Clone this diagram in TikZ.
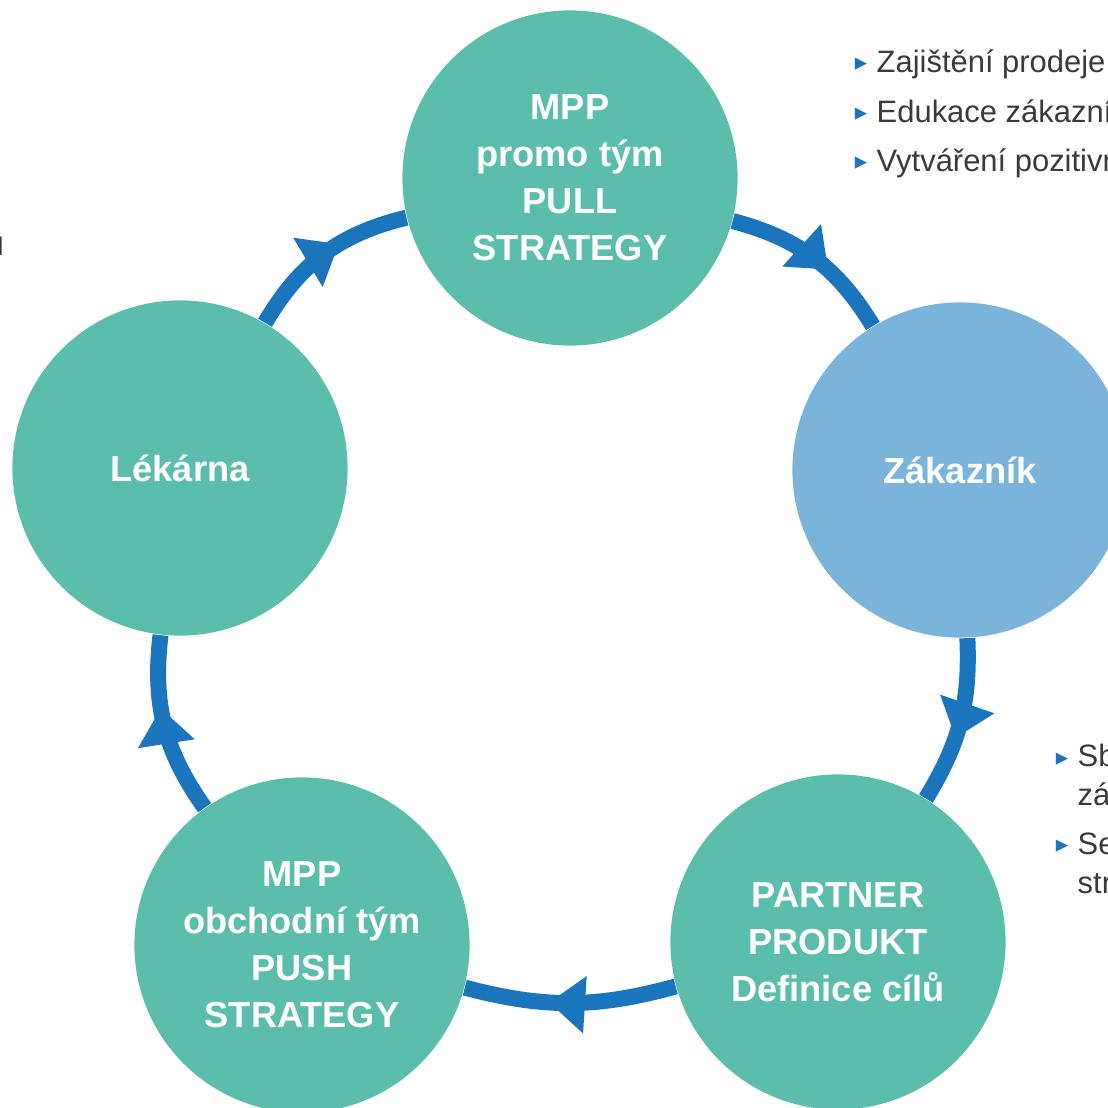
\documentclass[tikz,border=0pt]{standalone}
\usepackage{fontspec}
\setmainfont{Liberation Sans}
\newfontfamily\symfont{DejaVu Sans}
\usetikzlibrary{arrows.meta,decorations.markings}
\definecolor{circgreen}{HTML}{5BBEAC}
\definecolor{circblue}{HTML}{7AB4DA}
\definecolor{ringblue}{HTML}{1B75BC}
\definecolor{txtgray}{HTML}{3A3A3A}

\begin{document}
\begin{tikzpicture}[x=0.01cm, y=0.01cm,
    stage/.style={circle, fill=circgreen, minimum size=3.35cm, inner sep=0pt, align=center, text=white,
        font=\fontsize{10.3}{13.4}\selectfont\bfseries},
    ring/.style={line width=0.16cm, draw=ringblue, postaction={decorate},
        decoration={markings, mark=at position 0.6 with {\arrow[ringblue]{Triangle[length=0.36cm, width=0.55cm]}}}},
    bullet/.style={anchor=base west, inner sep=0pt, text=txtgray, font=\fontsize{8.8}{11}\selectfont},
    tick/.style={anchor=base, inner sep=0pt, text=ringblue, font=\symfont\fontsize{7}{7}\selectfont}]
    \useasboundingbox (0,0) rectangle (1108,1108);
    \clip (0,0) rectangle (1108,1108);

    \node[stage] (pull) at (570,930) {MPP\\promo tým\\PULL\\STRATEGY};
    \node[stage, fill=circblue] (zak) at (960,638) {Zákazník};
    \node[stage] (partner) at (838,166) {PARTNER\\PRODUKT\\Definice cílů};
    \node[stage] (push) at (302,163) {MPP\\obchodní tým\\PUSH\\STRATEGY};
    \node[stage] (lek) at (180,640) {Lékárna};

    \foreach \a/\b/\ang in {pull/zak/22, zak/partner/17, partner/push/15, push/lek/21, lek/pull/23} {
        \draw[ring] (\a) to[bend left=\ang] (\b);
    }

    % bullet lists, cut by the page edge
    \foreach \y/\t [count=\i] in {1035/Zajištění prodeje, 985/Edukace zákazník, 936/Vytváření pozitivní} {
        \node[bullet] (goal\i) at (876,\y) {\t};
        \node[tick] at (861,\y+2) {▸};
    }
    \node[bullet] (sb) at (1077,341) {Sb};
    \node[bullet] (za) at (1077,302) {zá};
    \node[bullet] (se) at (1077,253) {Se};
    \node[bullet] (str) at (1077,215) {str};
    \node[tick] at (1062,343) {▸};
    \node[tick] at (1062,255) {▸};
    \node[bullet, anchor=base east, font=\fontsize{10}{11}\selectfont] (cut) at (5,852) {u};
\end{tikzpicture}
\end{document}
